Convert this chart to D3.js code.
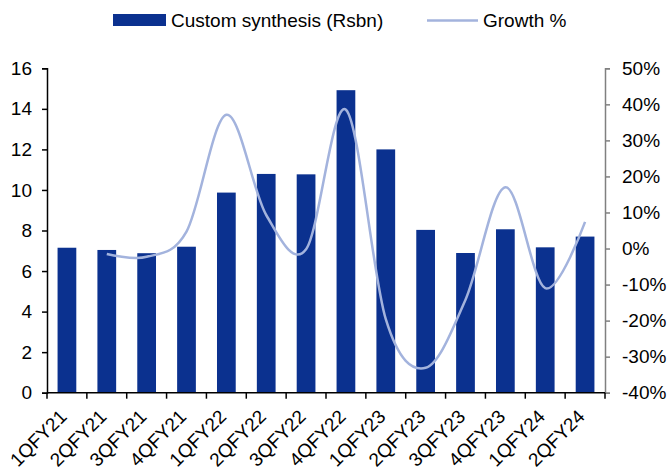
<!DOCTYPE html>
<html><head><meta charset="utf-8">
<script src="https://cdn.jsdelivr.net/npm/d3@7"></script>
<style>body{margin:0;background:#fff}svg{font-family:"Liberation Sans",Arial,sans-serif}</style>
</head><body><svg id="c" width="669" height="471"></svg>
<script>
const categories = ["1QFY21","2QFY21","3QFY21","4QFY21","1QFY22","2QFY22","3QFY22","4QFY22","1QFY23","2QFY23","3QFY23","4QFY23","1QFY24","2QFY24"];
const synthesis = [7.15,7.04,6.88,7.2,9.87,10.79,10.77,14.92,12.0,8.03,6.89,8.06,7.17,7.7];
const growth = [null,-1.5,-2.3,4.7,37.1,9.3,-0.2,38.5,-19.6,-33.1,-14.2,17.0,-11.0,7.4];
const leftTicks = [0,2,4,6,8,10,12,14,16];
const rightTicks = [-40,-30,-20,-10,0,10,20,30,40,50];

const FS = 19;
const svg = d3.select("#c");
const L = 47, R = 605, T = 68.3, B = 392.7;
const x = d3.scaleBand().domain(categories).range([L, R]).paddingInner(0.53).paddingOuter(0.265);
const xb = d3.scaleBand().domain(categories).range([L, R]);
const y = d3.scaleLinear().domain([0,16]).range([B, T]);
const y2 = d3.scaleLinear().domain([-40,50]).range([B, T]);

svg.selectAll("rect.bar").data(synthesis).join("rect")
  .attr("x", (d,i)=>x(categories[i])).attr("width", x.bandwidth())
  .attr("y", d=>y(d)).attr("height", d=>B-y(d)).attr("fill","#0b318f");

const line = d3.line().defined(d=>d[1]!=null)
  .x(d=>xb(d[0])+xb.bandwidth()/2).y(d=>y2(d[1])).curve(d3.curveCatmullRom.alpha(0));
svg.append("path").datum(categories.map((c,i)=>[c,growth[i]]))
  .attr("d", line).attr("fill","none").attr("stroke","#a3b3dd").attr("stroke-width",2.5);

const ga = svg.append("g").attr("transform",`translate(${L},0)`)
  .call(d3.axisLeft(y).tickValues(leftTicks).tickSize(5).tickPadding(10));
ga.select(".domain").attr("stroke","#000").attr("stroke-width",1.5);
ga.selectAll("line").attr("stroke","#000").attr("stroke-width",1.5);
ga.selectAll("text").attr("font-size",FS).attr("fill","#000").attr("font-family","Liberation Sans, Arial, sans-serif");

const gr = svg.append("g").attr("transform",`translate(${R},0)`)
  .call(d3.axisRight(y2).tickValues(rightTicks).tickFormat(d=>d+"%").tickSize(5).tickPadding(12));
gr.select(".domain").attr("stroke","#808080").attr("stroke-width",1.5);
gr.selectAll("line").attr("stroke","#808080").attr("stroke-width",1.5);
gr.selectAll("text").attr("font-size",FS).attr("fill","#000").attr("font-family","Liberation Sans, Arial, sans-serif");

const gb = svg.append("g").attr("transform",`translate(0,${B})`);
gb.append("line").attr("x1",L).attr("x2",R).attr("stroke","#000").attr("stroke-width",1.5);
gb.selectAll("line.tk").data(categories.concat(["end"])).join("line").attr("class","tk")
  .attr("x1",(d,i)=>L+i*xb.bandwidth()).attr("x2",(d,i)=>L+i*xb.bandwidth())
  .attr("y1",0).attr("y2",6).attr("stroke","#000").attr("stroke-width",1.5);
gb.selectAll("text").data(categories).join("text")
  .attr("transform",d=>`translate(${xb(d)+xb.bandwidth()/2+1},25) rotate(-45)`)
  .attr("text-anchor","end").attr("font-size",FS).attr("fill","#000")
  .text(d=>d);

const lg = svg.append("g");
lg.append("rect").attr("x",113).attr("y",14).attr("width",53).attr("height",12).attr("fill","#0b318f");
lg.append("text").attr("x",171).attr("y",27).attr("font-size",FS).text("Custom synthesis (Rsbn)");
lg.append("line").attr("x1",427).attr("x2",478).attr("y1",20.5).attr("y2",20.5).attr("stroke","#a3b3dd").attr("stroke-width",2.5);
lg.append("text").attr("x",483).attr("y",27).attr("font-size",FS).text("Growth %");
</script></body></html>
